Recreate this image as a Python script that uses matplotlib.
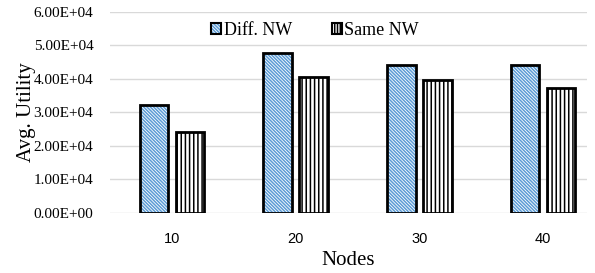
import numpy as np
import matplotlib
matplotlib.use("Agg")
import matplotlib.pyplot as plt
from matplotlib.patches import Patch

# data
nodes = ["10", "20", "30", "40"]
diff_nw = [3.23e4, 4.78e4, 4.42e4, 4.42e4]
same_nw = [2.41e4, 4.05e4, 3.98e4, 3.74e4]
y_ticks = [0, 1e4, 2e4, 3e4, 4e4, 5e4, 6e4]

blue = "#5b9bd5"
serif = "Liberation Serif"

plt.rcParams["hatch.linewidth"] = 1.1

fig = plt.figure(figsize=(5.95, 2.73), dpi=100)
ax = fig.add_axes([0.185, 0.22, 0.8016, 0.736])

x = np.arange(len(nodes))
off = 0.145
w = 0.23

# hatched fills first, black outlines on top
ax.bar(x - off, diff_nw, w, color="white", edgecolor=blue, hatch="\\" * 10,
       linewidth=0, zorder=2)
ax.bar(x + off, same_nw, w, color="white", edgecolor="black", hatch="||||",
       linewidth=0, zorder=2)
ax.bar(x - off, diff_nw, w, fill=False, edgecolor="black", linewidth=2, zorder=3)
ax.bar(x + off, same_nw, w, fill=False, edgecolor="black", linewidth=2, zorder=3)

ax.set_xlim(-0.5, 3.355)
ax.set_ylim(0, 6e4)
ax.set_yticks(y_ticks)
ax.set_yticklabels([f"{v:.2E}" for v in y_ticks], family=serif, fontsize=11)
ax.set_xticks(x)
ax.set_xticklabels(nodes, family="Liberation Sans", fontsize=10.5)
ax.tick_params(length=0, pad=12)
ax.tick_params(axis="x", pad=14)

ax.grid(axis="y", color="#d9d9d9", lw=1, zorder=0)
ax.set_axisbelow(True)
for s in ax.spines.values():
    s.set_visible(False)

ax.set_xlabel("Nodes", family=serif, fontsize=15, labelpad=3)
ax.set_ylabel("Avg. Utility", family=serif, fontsize=15, labelpad=-2)

handles = [
    Patch(facecolor="white", edgecolor=blue, hatch="\\" * 10, lw=0),
    Patch(facecolor="white", edgecolor="black", hatch="||||||", lw=0),
]
hs = [Patch(facecolor="none", edgecolor="black", lw=1.5) for _ in handles]
leg = ax.legend([(handles[0], hs[0]), (handles[1], hs[1])], ["Diff. NW", "Same NW"],
                loc="center", bbox_to_anchor=(0.43, 0.91), ncol=2, frameon=False,
                prop={"family": serif, "size": 13}, handlelength=0.55,
                handleheight=0.55, handletextpad=0.15, columnspacing=2.2)

fig.savefig("out.png", dpi=100)
